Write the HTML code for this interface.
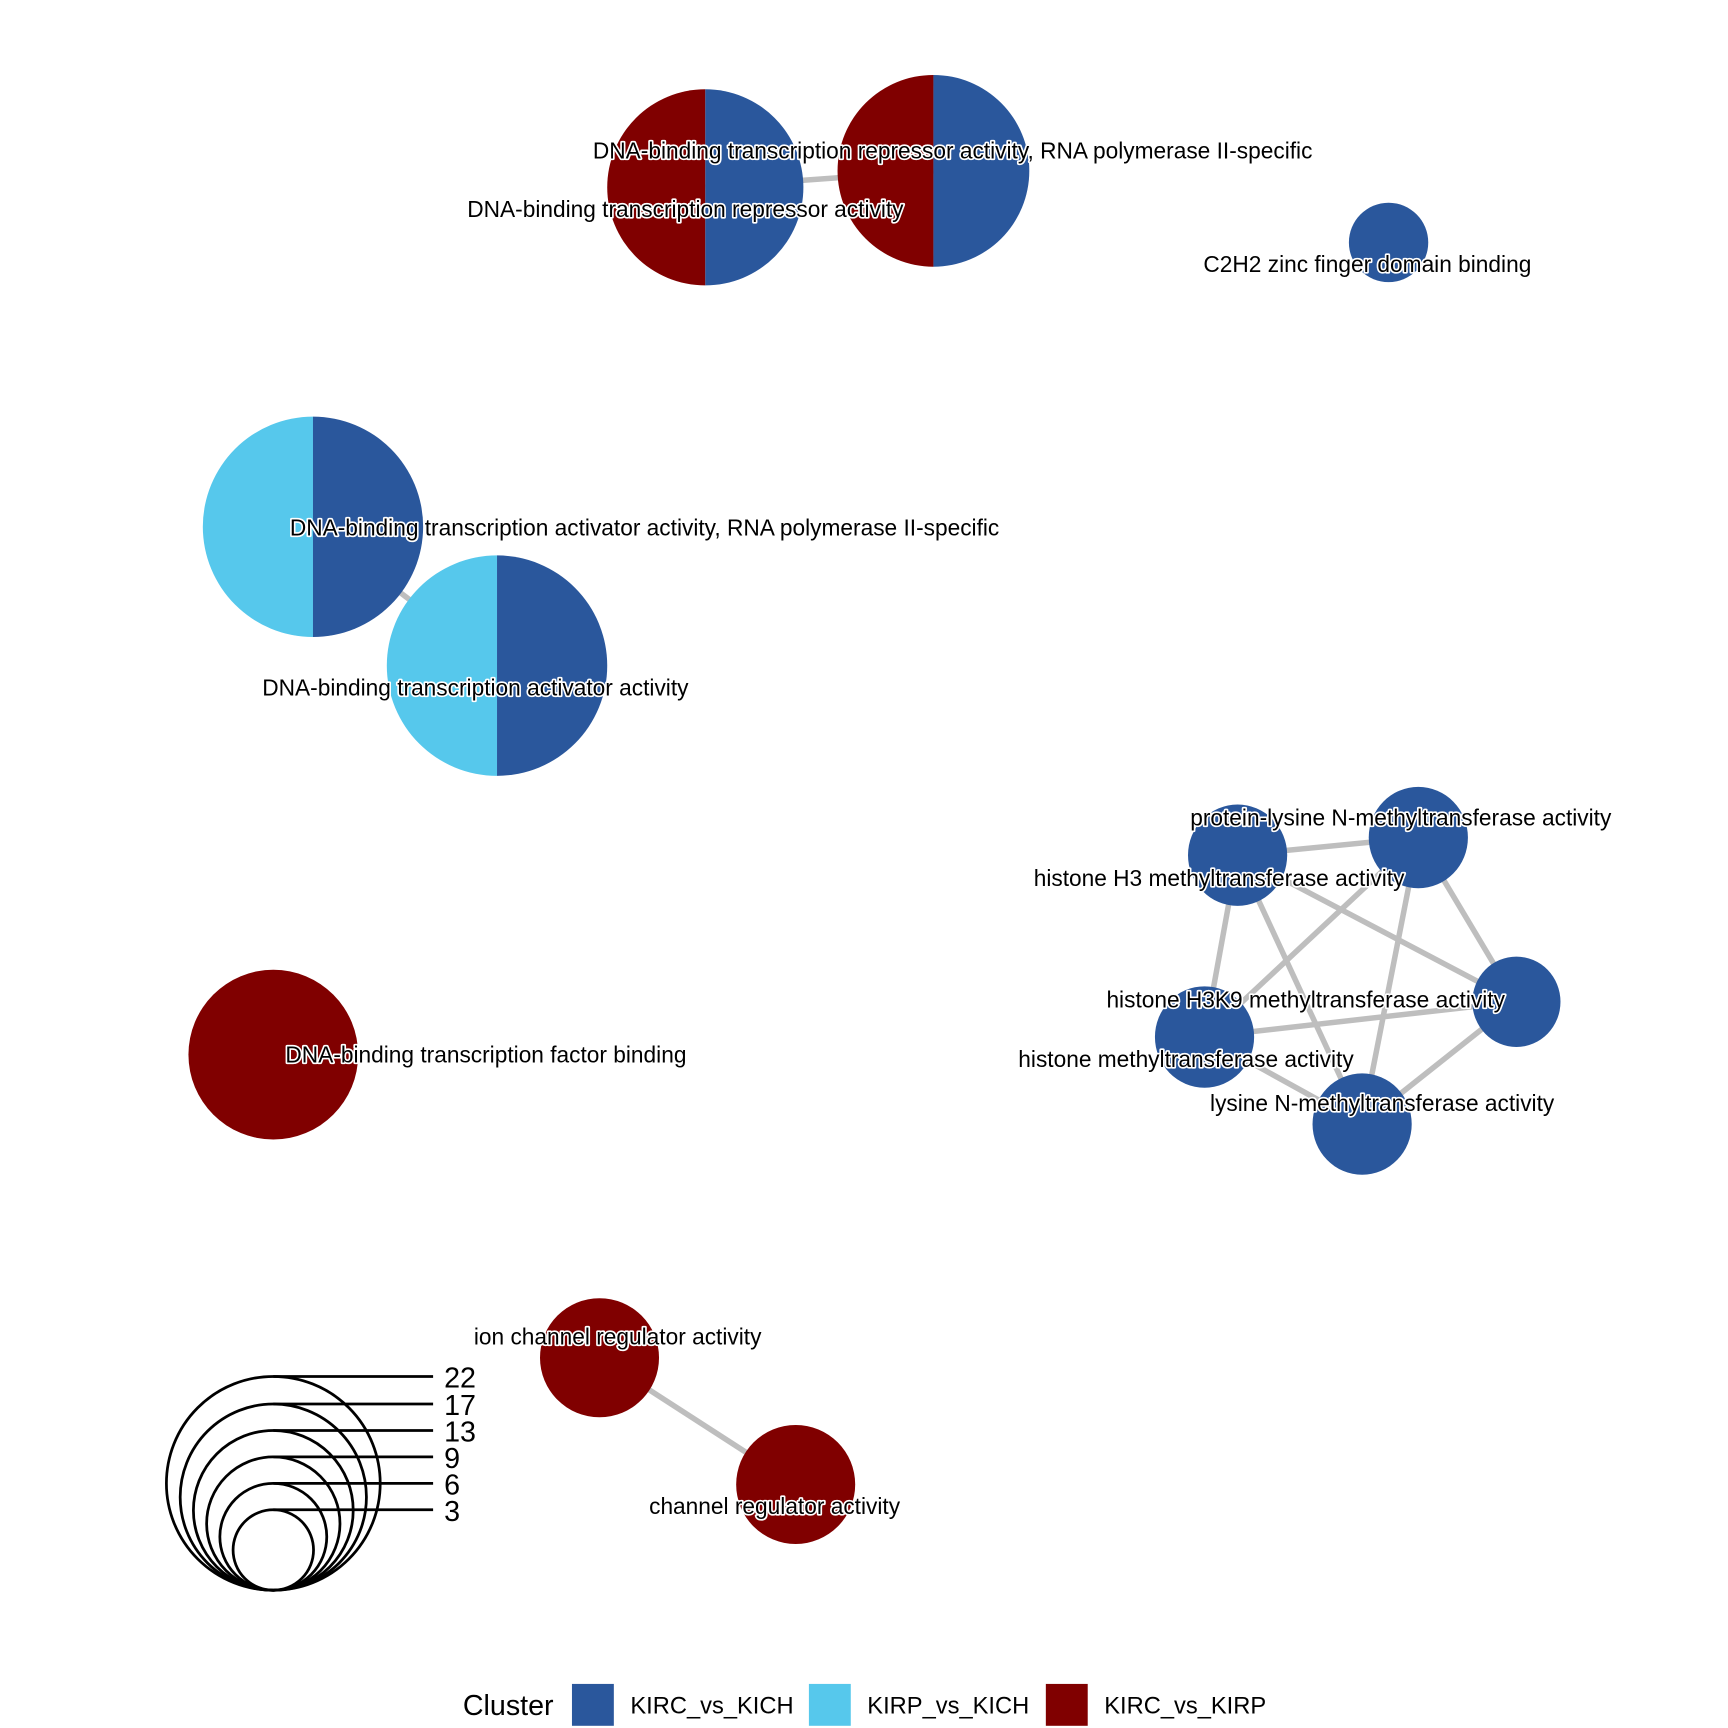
<!DOCTYPE html>
<html><head><meta charset="utf-8"><style>
html,body{margin:0;padding:0;background:#fff;}
svg{display:block;}
text{font-family:"Liberation Sans",sans-serif;}
.lb{font-size:20.6px;fill:#000;stroke:#fff;stroke-width:3px;paint-order:stroke;stroke-linejoin:round;}
</style></head><body>
<svg width="1728" height="1728" viewBox="0 0 1568 1568" xmlns="http://www.w3.org/2000/svg">
<rect width="1568" height="1568" fill="#fff"/>
<g stroke="#BEBEBE" stroke-width="5" fill="none">
<line x1="640" y1="170" x2="847" y2="155"/>
<line x1="284" y1="478" x2="451" y2="604"/>
<line x1="544" y1="1232" x2="722" y2="1347"/>
<line x1="1123" y1="776" x2="1287" y2="760"/>
<line x1="1123" y1="776" x2="1093" y2="941"/>
<line x1="1123" y1="776" x2="1236" y2="1020"/>
<line x1="1123" y1="776" x2="1376" y2="909"/>
<line x1="1287" y1="760" x2="1093" y2="941"/>
<line x1="1287" y1="760" x2="1236" y2="1020"/>
<line x1="1287" y1="760" x2="1376" y2="909"/>
<line x1="1093" y1="941" x2="1376" y2="909"/>
<line x1="1093" y1="941" x2="1236" y2="1020"/>
<line x1="1376" y1="909" x2="1236" y2="1020"/>
</g>
<path d="M640,81 A89,89 0 0 0 640,259 Z" fill="#800000"/>
<path d="M640,81 A89,89 0 0 1 640,259 Z" fill="#2A579C"/>
<path d="M847,68 A87,87 0 0 0 847,242 Z" fill="#800000"/>
<path d="M847,68 A87,87 0 0 1 847,242 Z" fill="#2A579C"/>
<circle cx="1260" cy="220" r="36" fill="#2A579C"/>
<path d="M284,378 A100,100 0 0 0 284,578 Z" fill="#56C8EC"/>
<path d="M284,378 A100,100 0 0 1 284,578 Z" fill="#2A579C"/>
<path d="M451,504 A100,100 0 0 0 451,704 Z" fill="#56C8EC"/>
<path d="M451,504 A100,100 0 0 1 451,704 Z" fill="#2A579C"/>
<circle cx="248" cy="957" r="77" fill="#800000"/>
<g fill="#2A579C">
<ellipse cx="1287" cy="760" rx="45" ry="46"/>
<ellipse cx="1123" cy="776" rx="45" ry="46"/>
<ellipse cx="1376" cy="909" rx="40" ry="41"/>
<ellipse cx="1093" cy="941" rx="45" ry="46"/>
<ellipse cx="1236" cy="1020" rx="45" ry="46"/>
</g>
<circle cx="544" cy="1232" r="54" fill="#800000"/>
<circle cx="722" cy="1347" r="54" fill="#800000"/>
<g class="lb">
<text x="538" y="144" class="lb">DNA-binding transcription repressor activity, RNA polymerase II-specific</text>
<text x="424" y="197" class="lb">DNA-binding transcription repressor activity</text>
<text x="1092" y="247" class="lb">C2H2 zinc finger domain binding</text>
<text x="263" y="486" class="lb">DNA-binding transcription activator activity, RNA polymerase II-specific</text>
<text x="238" y="631" class="lb">DNA-binding transcription activator activity</text>
<text x="259" y="964" class="lb">DNA-binding transcription factor binding</text>
<text x="1080" y="749" class="lb">protein-lysine N-methyltransferase activity</text>
<text x="938" y="804" class="lb">histone H3 methyltransferase activity</text>
<text x="1004" y="914" class="lb">histone H3K9 methyltransferase activity</text>
<text x="924" y="968" class="lb">histone methyltransferase activity</text>
<text x="1098" y="1008" class="lb">lysine N-methyltransferase activity</text>
<text x="430" y="1220" class="lb">ion channel regulator activity</text>
<text x="589" y="1374" class="lb">channel regulator activity</text>
</g>
<g stroke="#000" stroke-width="2.5" fill="none">
<circle cx="248" cy="1346" r="97"/>
<circle cx="248" cy="1358.5" r="84.5"/>
<circle cx="248" cy="1370.5" r="72.5"/>
<circle cx="248" cy="1382.5" r="60.5"/>
<circle cx="248" cy="1394.5" r="48.5"/>
<circle cx="248" cy="1406.5" r="36.5"/>
<line x1="248" y1="1249" x2="393" y2="1249"/>
<line x1="248" y1="1274" x2="393" y2="1274"/>
<line x1="248" y1="1298" x2="393" y2="1298"/>
<line x1="248" y1="1322" x2="393" y2="1322"/>
<line x1="248" y1="1346" x2="393" y2="1346"/>
<line x1="248" y1="1370" x2="393" y2="1370"/>
</g>
<g font-size="26" fill="#000">
<text x="403" y="1259">22</text>
<text x="403" y="1284">17</text>
<text x="403" y="1308">13</text>
<text x="403" y="1332">9</text>
<text x="403" y="1356">6</text>
<text x="403" y="1380">3</text>
</g>
<text x="420" y="1556" font-size="26" fill="#000">Cluster</text>
<rect x="519" y="1528" width="38" height="38" fill="#2A579C"/>
<text x="572" y="1555" font-size="21.5" fill="#000">KIRC_vs_KICH</text>
<rect x="734" y="1528" width="38" height="38" fill="#56C8EC"/>
<text x="787" y="1555" font-size="21.5" fill="#000">KIRP_vs_KICH</text>
<rect x="949" y="1528" width="38" height="38" fill="#800000"/>
<text x="1002" y="1555" font-size="21.5" fill="#000">KIRC_vs_KIRP</text>
</svg>
</body></html>
